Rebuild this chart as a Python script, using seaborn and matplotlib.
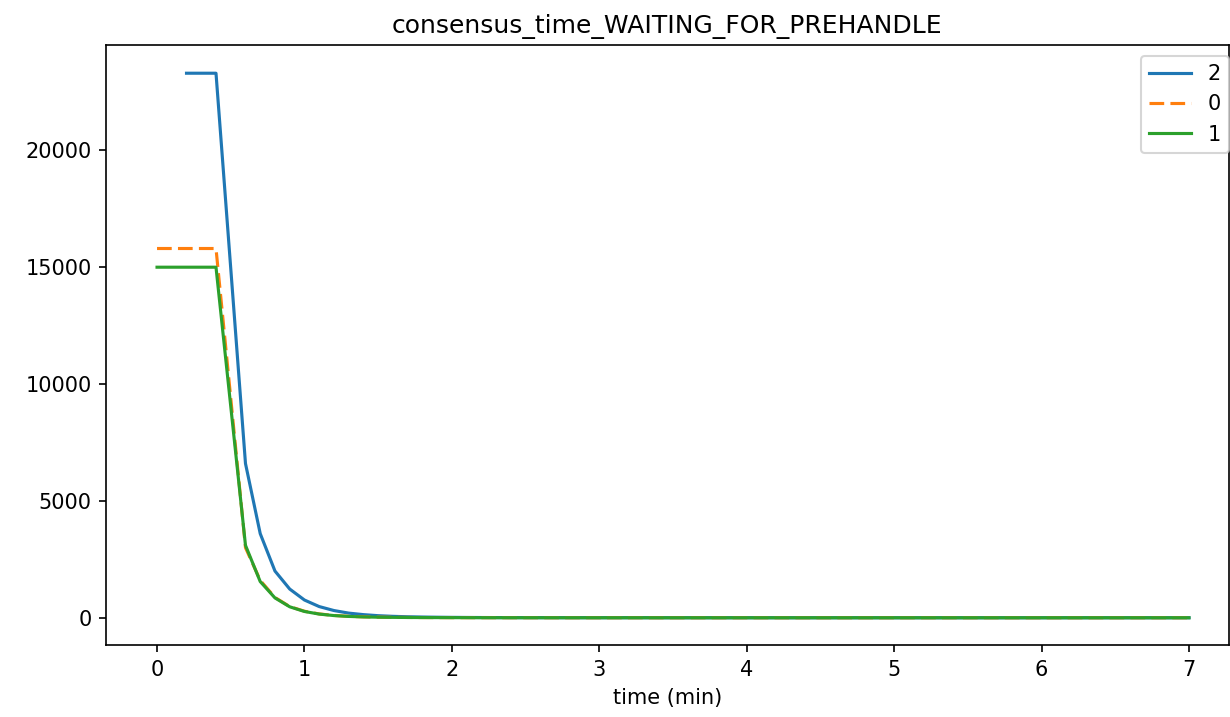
import matplotlib
matplotlib.use("Agg")
import matplotlib.pyplot as plt
import seaborn as sns
import pandas as pd

# time axis (minutes), sampled every 0.1 min
time_all = [round(i / 10, 1) for i in range(71)]

# series "2" starts at 0.2 min
series_2 = [23300, 23300, 23300, 14950, 6600, 3600, 2000, 1230, 760, 480,
            310, 200, 135, 90, 62, 44, 32, 24, 18, 14,
            11, 9, 7, 6, 5, 5, 4, 4, 3, 3,
            3, 3, 2, 2, 2, 2, 2, 2, 2, 2,
            2, 1, 1, 1, 1, 1, 1, 1, 1, 1,
            1, 1, 1, 1, 1, 1, 1, 1, 1, 1,
            1, 1, 1, 1, 1, 1, 1, 1, 1]
series_0 = [15800, 15800, 15800, 15800, 15800, 9400, 3000, 1600, 870, 480,
            280, 165, 100, 62, 40, 27, 19, 14, 10, 8,
            6, 5, 4, 4, 3, 3, 3, 2, 2, 2,
            2, 2, 2, 2, 1, 1, 1, 1, 1, 1,
            1, 1, 1, 1, 1, 1, 1, 1, 1, 1,
            1, 1, 1, 1, 1, 1, 1, 1, 1, 1,
            1, 1, 1, 1, 1, 1, 1, 1, 1, 1, 1]
series_1 = [15000, 15000, 15000, 15000, 15000, 9050, 3100, 1550, 850, 470,
            270, 158, 95, 58, 37, 25, 18, 13, 10, 8,
            6, 5, 4, 4, 3, 3, 3, 2, 2, 2,
            2, 2, 2, 2, 1, 1, 1, 1, 1, 1,
            1, 1, 1, 1, 1, 1, 1, 1, 1, 1,
            1, 1, 1, 1, 1, 1, 1, 1, 1, 1,
            1, 1, 1, 1, 1, 1, 1, 1, 1, 1, 1]

series_order = ["2", "0", "1"]

df = pd.concat([
    pd.DataFrame({"time": time_all[2:], "value": series_2, "series": "2"}),
    pd.DataFrame({"time": time_all, "value": series_0, "series": "0"}),
    pd.DataFrame({"time": time_all, "value": series_1, "series": "1"}),
], ignore_index=True)

fig = plt.figure(figsize=(8.2, 4.78), dpi=150)
ax = fig.add_axes([0.0862, 0.1004, 0.9128, 0.8366])

sns.lineplot(data=df, x="time", y="value", hue="series", style="series",
             hue_order=series_order, style_order=series_order,
             palette={"2": "#1f77b4", "0": "#ff7f0e", "1": "#2ca02c"},
             dashes={"2": "", "0": (4.7, 2.0), "1": ""},
             linewidth=1.5, ax=ax)

ax.set_title("consensus_time_WAITING_FOR_PREHANDLE", fontsize=12)
ax.set_xlabel("time (min)", fontsize=10)
ax.set_ylabel("")
ax.set_xticks([0, 1, 2, 3, 4, 5, 6, 7])
ax.tick_params(labelsize=10)
ax.set_xlim(-0.346, 7.27)
ax.set_ylim(-1165, 24500)
leg = ax.legend(loc="upper right", fontsize=10, bbox_to_anchor=(1.0098, 1.0))
leg.set_title(None)

fig.savefig("out.png", dpi=150)
